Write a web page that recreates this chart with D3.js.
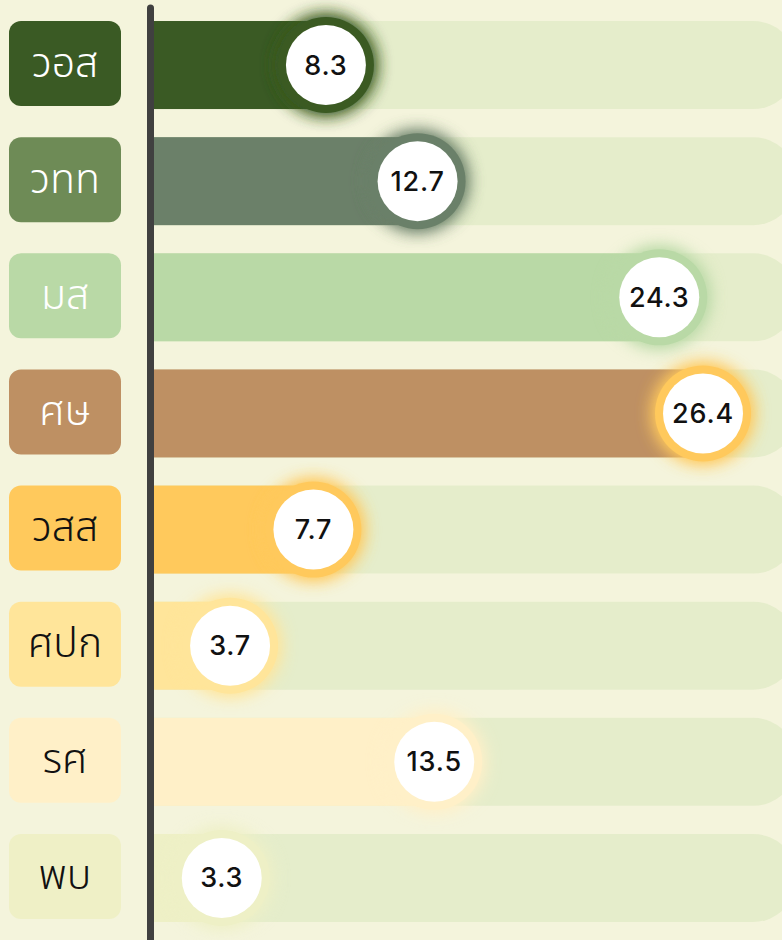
<!DOCTYPE html>
<html>
<head>
<meta charset="utf-8">
<script src="https://cdn.jsdelivr.net/npm/d3@7"></script>
<style>
    body { margin: 0; background: #f4f4dc; }
    svg { display: block; }
    .label { font-family: "Noto Sans Thai", "Noto Sans", sans-serif; font-weight: 300; }
    .value { font-family: Inter, "Noto Sans", sans-serif; font-weight: 500; }
</style>
</head>
<body>
<div id="chart"></div>
<script>
// data
const labels = ["วอส", "วทท", "มส", "ศษ", "วสส", "ศปก", "รศ", "พบ"];
const values = [8.3, 12.7, 24.3, 26.4, 7.7, 3.7, 13.5, 3.3];

// colours per row
const boxColors  = ["#3a5a24", "#6e8b56", "#b9d9a6", "#be9063", "#ffc95c", "#ffe59a", "#fff0c8", "#eff0c6"];
const barColors  = ["#3a5a24", "#6b8069", "#b9d9a6", "#be9063", "#ffc95c", "#ffe59a", "#fff0c8", "#eef0c6"];
const ringColors = ["#3a5a24", "#6b8069", "#b9d9a6", "#ffc95c", "#ffc95c", "#ffe59a", "#fff0c8", "#eef0c6"];
const darkText   = [false, false, false, false, true, true, true, true];

const width = 782, height = 940;
const axisX = 150.5;
const barStart = 153;
const trackEnd = 797;

const svg = d3.select("#chart")
    .append("svg")
    .attr("width", width)
    .attr("height", height);

const y = d3.scaleBand()
    .domain(labels)
    .range([1.5, 941.5])
    .paddingInner(0.242)
    .paddingOuter(0.168);

const x = d3.scaleLinear()
    .domain([0, 30])
    .range([barStart, 778]);

const bh = y.bandwidth();

// glow filters, one per row colour
const defs = svg.append("defs");
ringColors.forEach((c, i) => {
    const f = defs.append("filter")
        .attr("id", "glow" + i)
        .attr("x", "-60%").attr("y", "-60%")
        .attr("width", "220%").attr("height", "220%");
    f.append("feGaussianBlur")
        .attr("in", "SourceGraphic")
        .attr("stdDeviation", 9)
        .attr("result", "blur");
    const m = f.append("feMerge");
    m.append("feMergeNode").attr("in", "blur");
    m.append("feMergeNode").attr("in", "blur");
    m.append("feMergeNode").attr("in", "SourceGraphic");
});

// track: square on the left, round on the right
function trackPath(x0, x1, y0, h) {
    const r = h / 2;
    return `M${x0},${y0} H${x1 - r} A${r},${r} 0 0 1 ${x1 - r},${y0 + h} H${x0} Z`;
}

const rows = svg.selectAll(".row")
    .data(labels)
    .enter()
    .append("g")
    .attr("class", "row");

rows.append("path")
    .attr("d", d => trackPath(barStart, trackEnd, y(d), bh))
    .attr("fill", "#e5edcb");

rows.append("rect")
    .attr("x", barStart)
    .attr("y", d => y(d))
    .attr("width", (d, i) => x(values[i]) - barStart)
    .attr("height", bh)
    .attr("fill", (d, i) => barColors[i]);

// label boxes
rows.append("rect")
    .attr("x", 9)
    .attr("y", d => y(d))
    .attr("width", 112)
    .attr("height", bh - 3)
    .attr("rx", 12)
    .attr("fill", (d, i) => boxColors[i]);

rows.append("text")
    .attr("class", "label")
    .attr("x", 65)
    .attr("y", d => y(d) + (bh - 3) / 2)
    .attr("text-anchor", "middle")
    .attr("dominant-baseline", "central")
    .attr("font-size", 41)
    .attr("fill", (d, i) => darkText[i] ? "#111" : "#fff")
    .text(d => d);

// axis line
svg.append("line")
    .attr("x1", axisX).attr("x2", axisX)
    .attr("y1", 8).attr("y2", height + 10)
    .attr("stroke", "#404040")
    .attr("stroke-width", 7)
    .attr("stroke-linecap", "round");

// value markers
const marks = svg.selectAll(".mark")
    .data(labels)
    .enter()
    .append("g")
    .attr("class", "mark")
    .attr("transform", (d, i) => `translate(${x(values[i])},${y(d) + bh / 2})`);

marks.append("circle")
    .attr("r", 48)
    .attr("fill", (d, i) => ringColors[i])
    .attr("filter", (d, i) => `url(#glow${i})`);

marks.append("circle")
    .attr("r", 40)
    .attr("fill", "#fff");

marks.append("text")
    .attr("class", "value")
    .attr("text-anchor", "middle")
    .attr("dominant-baseline", "central")
    .attr("font-size", 27)
    .attr("letter-spacing", 0.8)
    .attr("fill", "#111")
    .text((d, i) => values[i].toFixed(1));
</script>
</body>
</html>
